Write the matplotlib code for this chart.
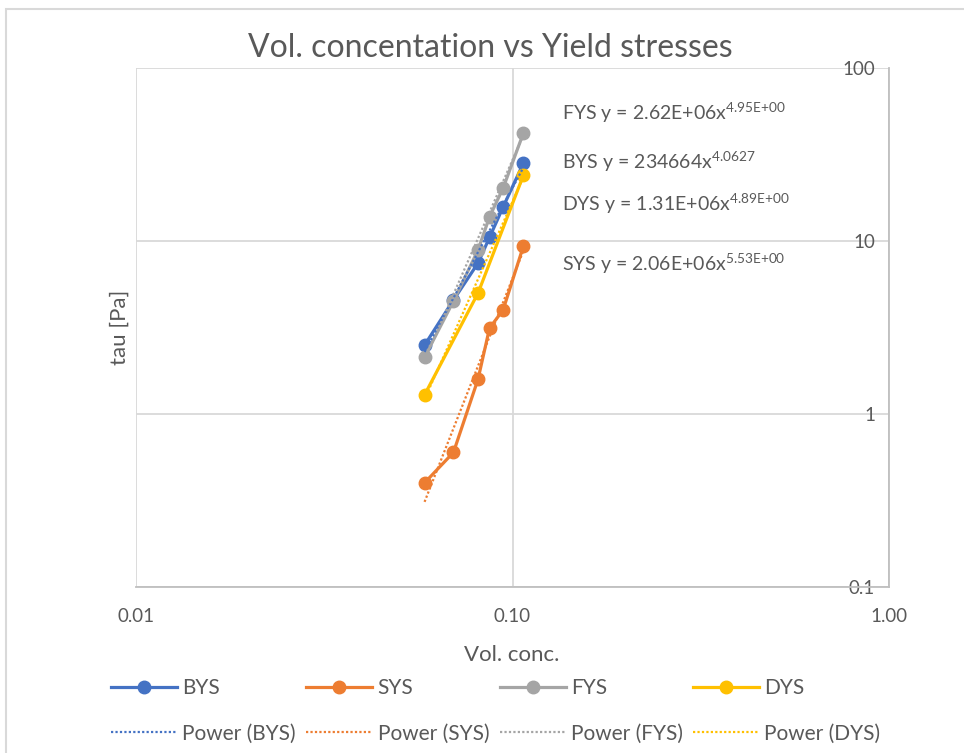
import numpy as np
import matplotlib.pyplot as plt
from matplotlib.patches import Rectangle

plt.rcParams['font.family'] = ['Lato', 'DejaVu Sans']
plt.rcParams['mathtext.fontset'] = 'custom'
plt.rcParams['mathtext.rm'] = 'Lato'

TEXT = '#595959'
GRID = '#d9d9d9'

# volume concentration and yield stress readings
bys_x = [0.0584, 0.0697, 0.0810, 0.0869, 0.0944, 0.1069]
bys_y = [2.50, 4.56, 7.46, 10.5, 15.7, 28.2]

sys_x = [0.0584, 0.0697, 0.0810, 0.0869, 0.0944, 0.1069]
sys_y = [0.40, 0.60, 1.59, 3.14, 3.99, 9.35]

fys_x = [0.0584, 0.0697, 0.0810, 0.0869, 0.0944, 0.1069]
fys_y = [2.13, 4.50, 8.87, 13.8, 20.2, 42.1]

dys_x = [0.0584, 0.0810, 0.1069]
dys_y = [1.29, 5.00, 24.0]

# power trendline coefficients (y = a * x^b)
fit_a = {'BYS': 234664, 'SYS': 2.06e6, 'FYS': 2.62e6, 'DYS': 1.31e6}
fit_b = {'BYS': 4.0627, 'SYS': 5.53, 'FYS': 4.95, 'DYS': 4.89}

eq_labels = [
    ('FYS y = 2.62E+06x', '4.95E{+}00', 113),
    ('BYS y = 234664x', '4.0627', 162),
    ('DYS y = 1.31E+06x', '4.89E{+}00', 204),
    ('SYS y = 2.06E+06x', '5.53E{+}00', 264),
]

series = [
    ('BYS', bys_x, bys_y, '#4472c4'),
    ('SYS', sys_x, sys_y, '#ed7d31'),
    ('FYS', fys_x, fys_y, '#a5a5a5'),
    ('DYS', dys_x, dys_y, '#ffc000'),
]

W, H = 964, 753
fig = plt.figure(figsize=(W / 100, H / 100), dpi=100)
fig.patches.append(Rectangle((6 / W, -0.1), 1.2, 1 - 9 / H + 0.1, transform=fig.transFigure,
                             fill=False, edgecolor='#d9d9d9', linewidth=1.5))

ax = fig.add_axes([136 / W, 1 - 587 / H, (889 - 136) / W, (587 - 68) / H])
ax.set_xscale('log')
ax.set_yscale('log')
ax.set_xlim(0.01, 1)
ax.set_ylim(0.1, 100)

handles, labels = [], []
for name, xs, ys, col in series:
    ln, = ax.plot(xs, ys, color=col, lw=2.3, marker='o', ms=9, zorder=3)
    xs = np.array([min(xs), max(xs)])
    tr, = ax.plot(xs, fit_a[name] * xs ** fit_b[name], color=col, lw=1.6,
                  ls=(0, (1, 1)), zorder=4)
    handles += [ln, tr]
    labels += [name, 'Power (%s)' % name]

ax.set_xticks([0.01, 0.1, 1])
ax.set_xticklabels(['0.01', '0.10', '1.00'])
ax.set_yticks([0.1, 1, 10, 100])
ax.set_yticklabels(['0.1', '1', '10', '100'])
ax.minorticks_off()
ax.grid(True, color=GRID, lw=1.3)
ax.set_axisbelow(True)
for s in ['left', 'top']:
    ax.spines[s].set_visible(False)
for s in ['right', 'bottom']:
    ax.spines[s].set_color('#bfbfbf')
    ax.spines[s].set_linewidth(1.3)

ax.yaxis.tick_right()
ax.tick_params(axis='both', length=0, labelsize=13.5, labelcolor=TEXT)
ax.tick_params(axis='x', pad=15)
ax.tick_params(axis='y', pad=-10)
for t in ax.get_yticklabels():
    t.set_horizontalalignment('right')

fig.text(490 / W, 1 - 48 / H, 'Vol. concentation vs Yield stresses', ha='center', va='center',
         fontsize=23, color=TEXT)
fig.text(120 / W, 1 - 327 / H, 'tau [Pa]', rotation=90, ha='center', va='center',
         fontsize=16, color=TEXT)
fig.text(512 / W, 1 - 655 / H, 'Vol. conc.', ha='center', va='center', fontsize=16, color=TEXT)

for base, sup, ypx in eq_labels:
    fig.text(562 / W, 1 - ypx / H, base + r'$^{\mathregular{%s}}$' % sup, ha='left',
             va='center', fontsize=14, color=TEXT)

fig.legend(handles, labels, ncol=4, loc='center left', bbox_to_anchor=(111 / W, 1 - 711 / H),
           frameon=False, fontsize=15, labelcolor=TEXT, handlelength=3.17, handletextpad=0.25,
           columnspacing=0.5, labelspacing=1.2, borderpad=0, borderaxespad=0)

fig.savefig('out.png', dpi=100)
